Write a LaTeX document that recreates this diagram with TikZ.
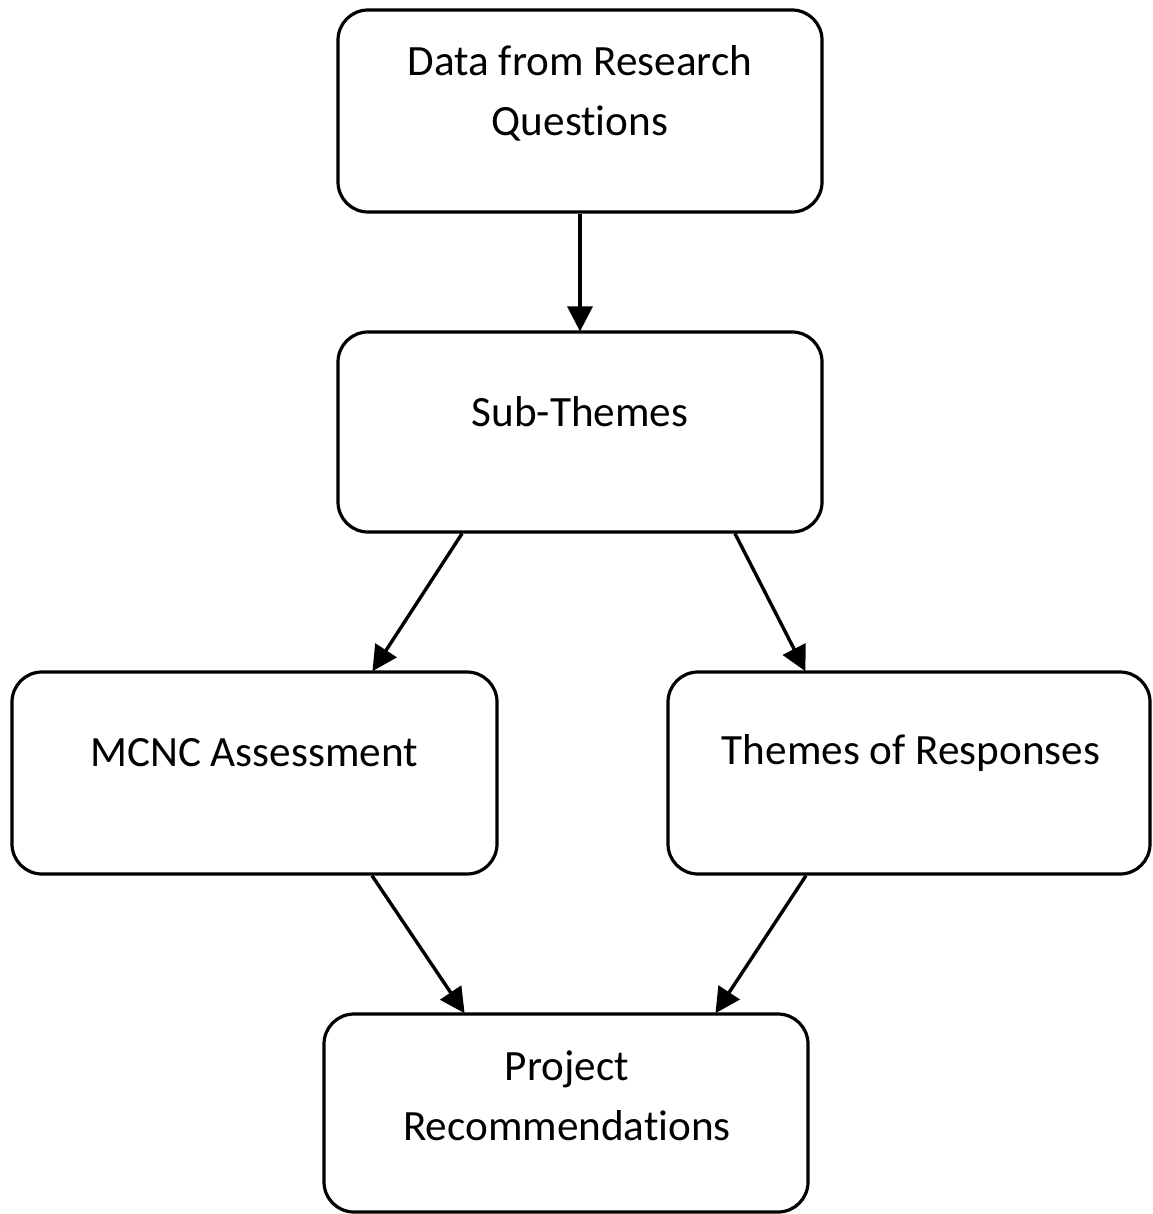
\documentclass[tikz,border=0pt]{standalone}
\usepackage{fontspec}
\setmainfont[Ligatures={NoCommon}]{Carlito}
\usetikzlibrary{arrows.meta}
\begin{document}
\begin{tikzpicture}[x=1pt,y=-1pt,
  stagebox/.style={draw=black, line width=3.2pt, rounded corners=30pt, inner sep=0pt},
  stagetext/.style={font=\fontsize{43.2}{60}\selectfont, align=center, inner sep=0pt},
  flow/.style={line width=3.4pt, -{Triangle[length=25pt,width=25pt]}, shorten >=-1pt}]
  \useasboundingbox (0,0) rectangle (1152,1214);
  % stage boxes
  \node[stagebox, minimum width=484pt, minimum height=202pt] (data) at (580,111) {};
  \node[stagebox, minimum width=484pt, minimum height=200pt] (sub) at (580,432) {};
  \node[stagebox, minimum width=485pt, minimum height=202pt] (mcnc) at (254.5,773) {};
  \node[stagebox, minimum width=482pt, minimum height=202pt] (resp) at (909,773) {};
  \node[stagebox, minimum width=484pt, minimum height=198pt] (proj) at (566,1113) {};
  % labels
  \node[stagetext] (datat) at (580,93) {Data from Research\\Questions};
  \node[stagetext] (subt) at (580,412) {Sub-Themes};
  \node[stagetext] (mcnct) at (254,753) {MCNC Assessment};
  \node[stagetext] (respt) at (911,753) {Themes of Responses};
  \node[stagetext] (projt) at (567,1096) {Project\\Recommendations};
  % connectors
  \draw[flow] (data.south) -- (sub.north);
  \draw[flow] (sub.south -| 462,0) -- (mcnc.north -| 373,0);
  \draw[flow] (sub.south -| 735,0) -- (resp.north -| 805,0);
  \draw[flow] (mcnc.south -| 372,0) -- (proj.north -| 464,0);
  \draw[flow] (resp.south -| 806,0) -- (proj.north -| 716,0);
\end{tikzpicture}
\end{document}
